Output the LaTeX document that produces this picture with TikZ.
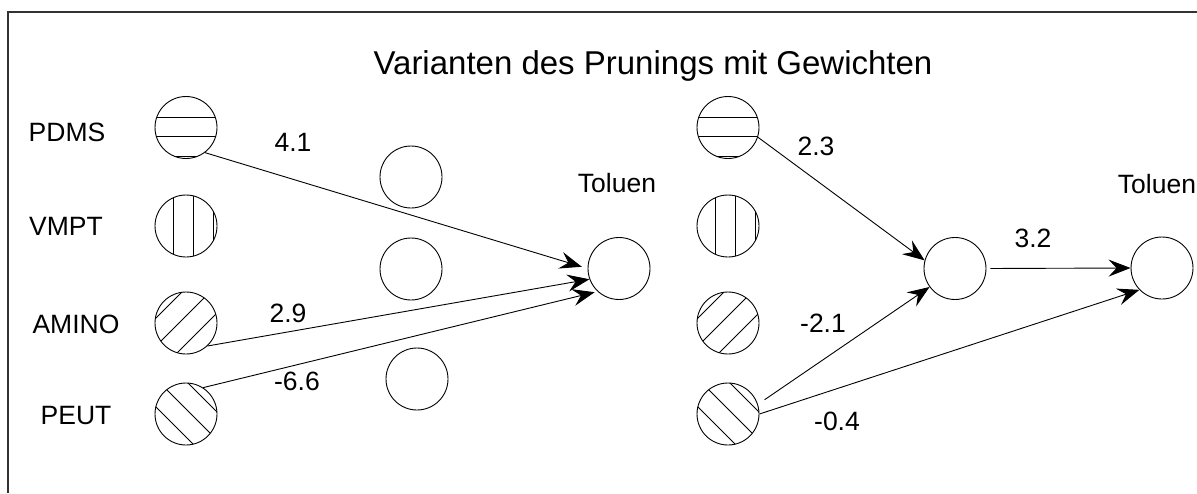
\documentclass[tikz,border=0pt]{standalone}
\usepackage{fontspec}
\setmainfont{Liberation Sans}
\usetikzlibrary{arrows.meta}
\begin{document}
\begin{tikzpicture}[x=1pt,y=-1pt,
  neuron/.style={draw,circle,minimum size=62pt,inner sep=0pt,line width=0.9pt},
  lbl/.style={font=\fontsize{26.5}{30}\selectfont,inner sep=0pt,anchor=base},
  wt/.style={font=\fontsize{26.5}{30}\selectfont,inner sep=0pt,anchor=base},
  conn/.style={line width=0.9pt,-{Stealth[length=22pt,width=17pt,inset=8pt]}},
  hatchh/.style={path picture={
    \foreach \d in {-10.5,8.5,28.5}{\draw[line width=0.8pt] ([shift={(-40,\d)}]path picture bounding box.center) -- ++(80,0);}}},
  hatchv/.style={path picture={
    \foreach \d in {-13,7,27}{\draw[line width=0.8pt] ([shift={(\d,-40)}]path picture bounding box.center) -- ++(0,80);}}},
  hatchr/.style={path picture={
    \foreach \d in {-35,-7,21}{\draw[line width=0.8pt] ([shift={(\d/2-40,\d/2+40)}]path picture bounding box.center) -- ++(80,-80);}}},
  hatchl/.style={path picture={
    \foreach \d in {-23,5,33}{\draw[line width=0.8pt] ([shift={(\d/2-40,-\d/2-40)}]path picture bounding box.center) -- ++(80,80);}}},
]
\useasboundingbox (0,0) rectangle (1197,493);
\draw[line width=1.3pt,black!80] (8,493) -- (8,12) -- (1197,12);

\node[font=\fontsize{33}{40}\selectfont,inner sep=0pt,anchor=base] (title) at (653,74) {Varianten des Prunings mit Gewichten};

% left network
\node[lbl] (lp) at (67,141.5) {PDMS};
\node[lbl] (lv) at (66,235.5) {VMPT};
\node[lbl] (la) at (76,333.5) {AMINO};
\node[lbl] (le) at (76,424) {PEUT};

\node[neuron,hatchh] (p1) at (186,127.5) {};
\node[neuron,hatchv] (v1) at (186,226) {};
\node[neuron,hatchr] (a1) at (186,323) {};
\node[neuron,hatchl] (e1) at (186,414) {};

\node[neuron] (h1) at (411,177) {};
\node[neuron] (h2) at (411,269) {};
\node[neuron] (h3) at (417,379) {};

\node[neuron] (o1) at (619,268.5) {};
\node[lbl] (t1) at (617,192) {Toluen};

\draw[conn,shorten >=6pt] (p1.-53) -- (o1.180);
\draw[conn] (a1.-47) -- (o1.200);
\draw[conn,shorten >=3pt] (e1.57) -- (o1.227);

\node[wt] (w1) at (293,151.5) {4.1};
\node[wt] (w2) at (288,322.5) {2.9};
\node[wt] (w3) at (297,390.5) {-6.6};

% right network
\node[neuron,hatchh] (p2) at (728,127.5) {};
\node[neuron,hatchv] (v2) at (728,226) {};
\node[neuron,hatchr] (a2) at (728,323) {};
\node[neuron,hatchl] (e2) at (728,414) {};

\node[neuron] (h4) at (955,268.5) {};
\node[neuron] (o2) at (1162,268) {};
\node[lbl] (t2) at (1157,193) {Toluen};

\draw[conn] (p2.-18) -- (h4.165);
\draw[conn,shorten <=8pt] (e2.18) -- (h4.216);
\draw[conn] (e2.0) -- (o2.224);
\draw[conn,shorten <=4pt] (h4.0) -- (o2.180);

\node[wt] (w4) at (816,155.5) {2.3};
\node[wt] (w5) at (1033,247) {3.2};
\node[wt] (w6) at (823,332) {-2.1};
\node[wt] (w7) at (837,430) {-0.4};
\end{tikzpicture}
\end{document}
